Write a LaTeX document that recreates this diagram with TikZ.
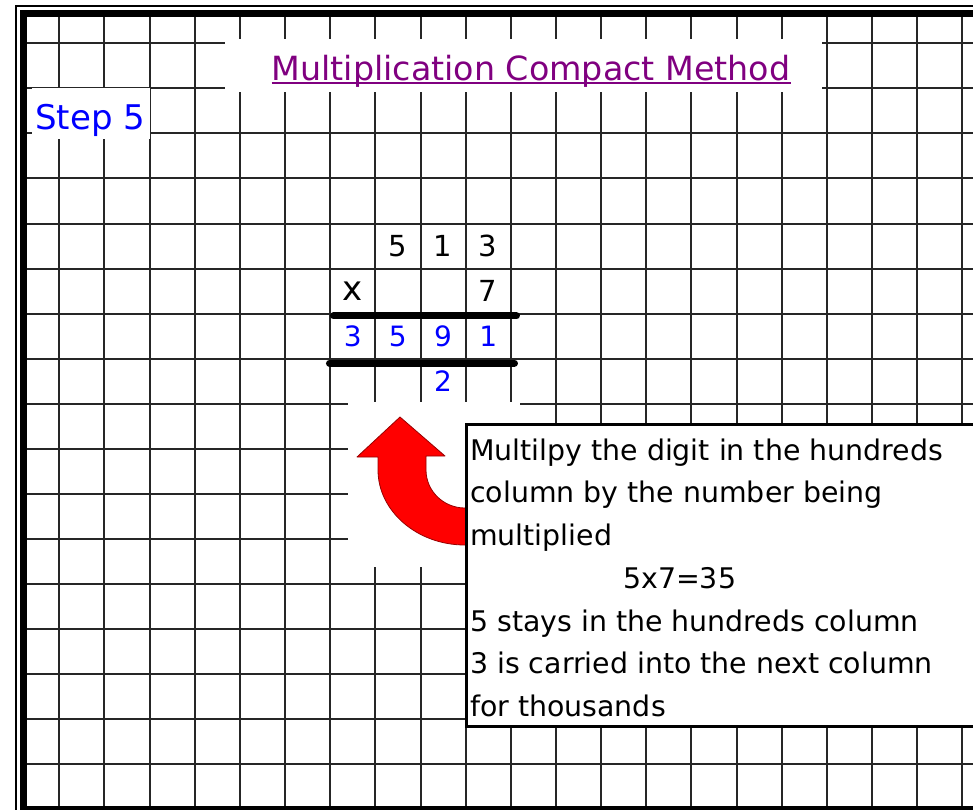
\documentclass[tikz,border=0pt]{standalone}
\usepackage{fontspec}
\setmainfont{DejaVu Sans}
\usetikzlibrary{positioning}
\definecolor{titlepurple}{RGB}{128,0,128}
\definecolor{arrowred}{RGB}{255,0,0}
\definecolor{arrowedge}{RGB}{150,0,0}
\tikzset{
    gridline/.style={draw=black!85, line width=2pt},
    cell/.style={minimum width=45.15pt, minimum height=45.05pt, inner sep=0pt, outer sep=0pt, font=\fontsize{29}{29}\selectfont},
    carry/.style={cell, text=blue, font=\fontsize{28}{28}\selectfont},
    sumline/.style={line width=7pt, line cap=round},
    heading/.style={inner sep=0pt, text=titlepurple, font=\fontsize{33.3}{33.3}\selectfont},
    steplabel/.style={inner sep=0pt, text=blue, font=\fontsize{34}{34}\selectfont},
    notebox/.style={draw, line width=3pt, fill=white, inner sep=0pt, outer sep=0pt, minimum width=520pt, minimum height=302pt},
    notetext/.style={inner sep=0pt, align=left, font=\fontsize{28.4}{42.7}\selectfont},
    bendarrow/.style={fill=arrowred, draw=arrowedge, line width=0.8pt, line join=round}
}

\begin{document}
\begin{tikzpicture}[x=1pt, y=-1pt, node distance=0pt]
  \useasboundingbox (0,0) rectangle (973,809);
  \fill[white] (0,0) rectangle (973,809);
  \foreach \c in {0,...,20} \draw[gridline] ({59.3+45.15*\c},17) -- ({59.3+45.15*\c},806);
  \foreach \r in {0,...,16} \draw[gridline] (27,{43.3+45.05*\r}) -- (973,{43.3+45.05*\r});
  \fill[white] (225,39) rectangle (822,92);
  \fill[white] (32,88) rectangle (150,139);
  \fill[white] (348,402) rectangle (520,567);
  \draw[line width=1.2pt] (16,6) rectangle (990,830);
  \draw[line width=7pt] (23.5,13.5) rectangle (985,809.5);
  \node(title)[heading, anchor=base] at (531,80){Multiplication Compact Method};
  \draw[titlepurple, line width=1.8pt] ([yshift=-3pt]title.base west) -- ([yshift=-3pt]title.base east);
  \node(step)[steplabel, anchor=base west] at (35,129.5){Step 5};
  \node(hund)[cell] at (397.9,246){5};
  \node(tens)[cell, right=of hund]{1};
  \node(ones)[cell, right=of tens]{3};
  \node(seven)[cell, below=of ones]{7};
  \node(times)[cell, left=90.3pt of seven, font=\fontsize{34}{34}\selectfont]{x};
  \node(resthou)[carry, below=of times]{3};
  \node(reshund)[carry, right=of resthou]{5};
  \node(restens)[carry, right=of reshund]{9};
  \node(resones)[carry, right=of restens]{1};
  \node(carrytwo)[carry, below=of restens]{2};
  \draw[sumline] ([xshift=3.3pt, yshift=-2.4pt]times.south west) -- ([xshift=5.7pt, yshift=-2.4pt]seven.south east);
  \draw[sumline] ([xshift=-0.7pt, yshift=-4.4pt]resthou.south west) -- ([xshift=3.7pt, yshift=-4.4pt]resones.south east);
  \draw[bendarrow] (490,508) -- (465,508) .. controls (443.5,508) and (426,491) .. (426,470) -- (426,456) -- (445,456) -- (400,417) -- (357,457) -- (378,457) -- (378,470) .. controls (378,511) and (417,545) .. (465,545) -- (490,545) -- cycle;
  \node(note)[notebox, anchor=north west] at (466.5,424.5){};
  \node(notelines)[notetext, below right=14pt and 3.5pt of note.north west]{Multilpy the digit in the hundreds\\
    column by the number being\\
    multiplied\\
    \hspace*{153pt}5x7=35\\
    5 stays in the hundreds column\\
    3 is carried into the next column\\
    for thousands};
\end{tikzpicture}
\end{document}
